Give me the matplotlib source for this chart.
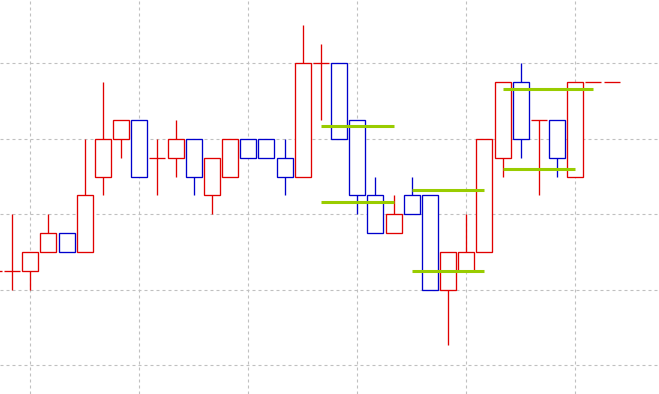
import matplotlib
matplotlib.use("Agg")
import matplotlib.pyplot as plt
import matplotlib.patches as mpatches

# ---- data (price units) ----
opens  = [1, 1, 1, 2, 3, 2, 6, 8, 9, 7, 7, 8, 5, 6, 8, 8, 7, 6, 12, 12, 9, 5, 3, 5, 5, 0, 1, 2, 7, 11, 9, 9, 6, 11, 11]
highs  = [2, 4, 2, 4, 3, 8, 11, 9, 9, 8, 9, 8, 7, 8, 8, 8, 8, 14, 13, 12, 9, 6, 5, 6, 5, 2, 4, 8, 11, 12, 9, 9, 11, 11, 11]
lows   = [0, 0, 0, 2, 2, 2, 5, 7, 6, 5, 6, 5, 4, 6, 7, 7, 5, 6, 9, 8, 4, 3, 3, 4, 0, -2.9, 1, 2, 6, 7, 5, 6, 6, 11, 11]
closes = [1, 1, 2, 3, 2, 5, 8, 9, 6, 7, 8, 6, 7, 8, 7, 7, 6, 12, 12, 8, 5, 3, 4, 4, 0, 2, 2, 8, 11, 8, 9, 7, 11, 11, 11]

# horizontal level segments: value, first bar, last bar
level_values = [8.66, 4.63, 5.31, 0.97, 10.61, 6.42]
level_start  = [18, 18, 23, 23, 28, 28]
level_end    = [22, 22, 27, 27, 33, 32]

UP = "#e00000"
DOWN = "#0000cc"
LEVEL = "#99cc00"
GRID = "#c0c0c0"
BODY_W = 0.88
LW = 0.95

plt.rcParams["lines.scale_dashes"] = False
fig = plt.figure(figsize=(6.59, 3.94), dpi=100)
ax = fig.add_axes([0, 0, 1, 1])

for i, (o, h, l, c) in enumerate(zip(opens, highs, lows, closes)):
    col = UP if c >= o else DOWN
    if h > l:
        ax.vlines(i, l, h, colors=col, linewidth=LW, zorder=2)
    if c == o:
        ax.hlines(o, i - BODY_W / 2, i + BODY_W / 2, colors=col, linewidth=LW, zorder=3)
    else:
        rect = mpatches.Rectangle((i - BODY_W / 2, min(o, c)), BODY_W, abs(c - o),
                                  facecolor="white", edgecolor=col, linewidth=LW, zorder=3)
        ax.add_patch(rect)

for v, s, e in zip(level_values, level_start, level_end):
    ax.hlines(v, s, e, colors=LEVEL, linewidth=2.2, zorder=5)

ax.set_xlim(0.332, 36.61)
ax.set_ylim(-5.52, 15.35)
ax.set_xticks(range(2, 36, 6))
ax.set_yticks([-4, 0, 4, 8, 12])
ax.grid(True, color=GRID, linewidth=0.8, linestyle=(0, (2.16, 2.16)), zorder=0)
ax.set_axisbelow(True)
ax.tick_params(length=0, labelbottom=False, labelleft=False)
for sp in ax.spines.values():
    sp.set_visible(False)

fig.savefig("out.png", dpi=100)
